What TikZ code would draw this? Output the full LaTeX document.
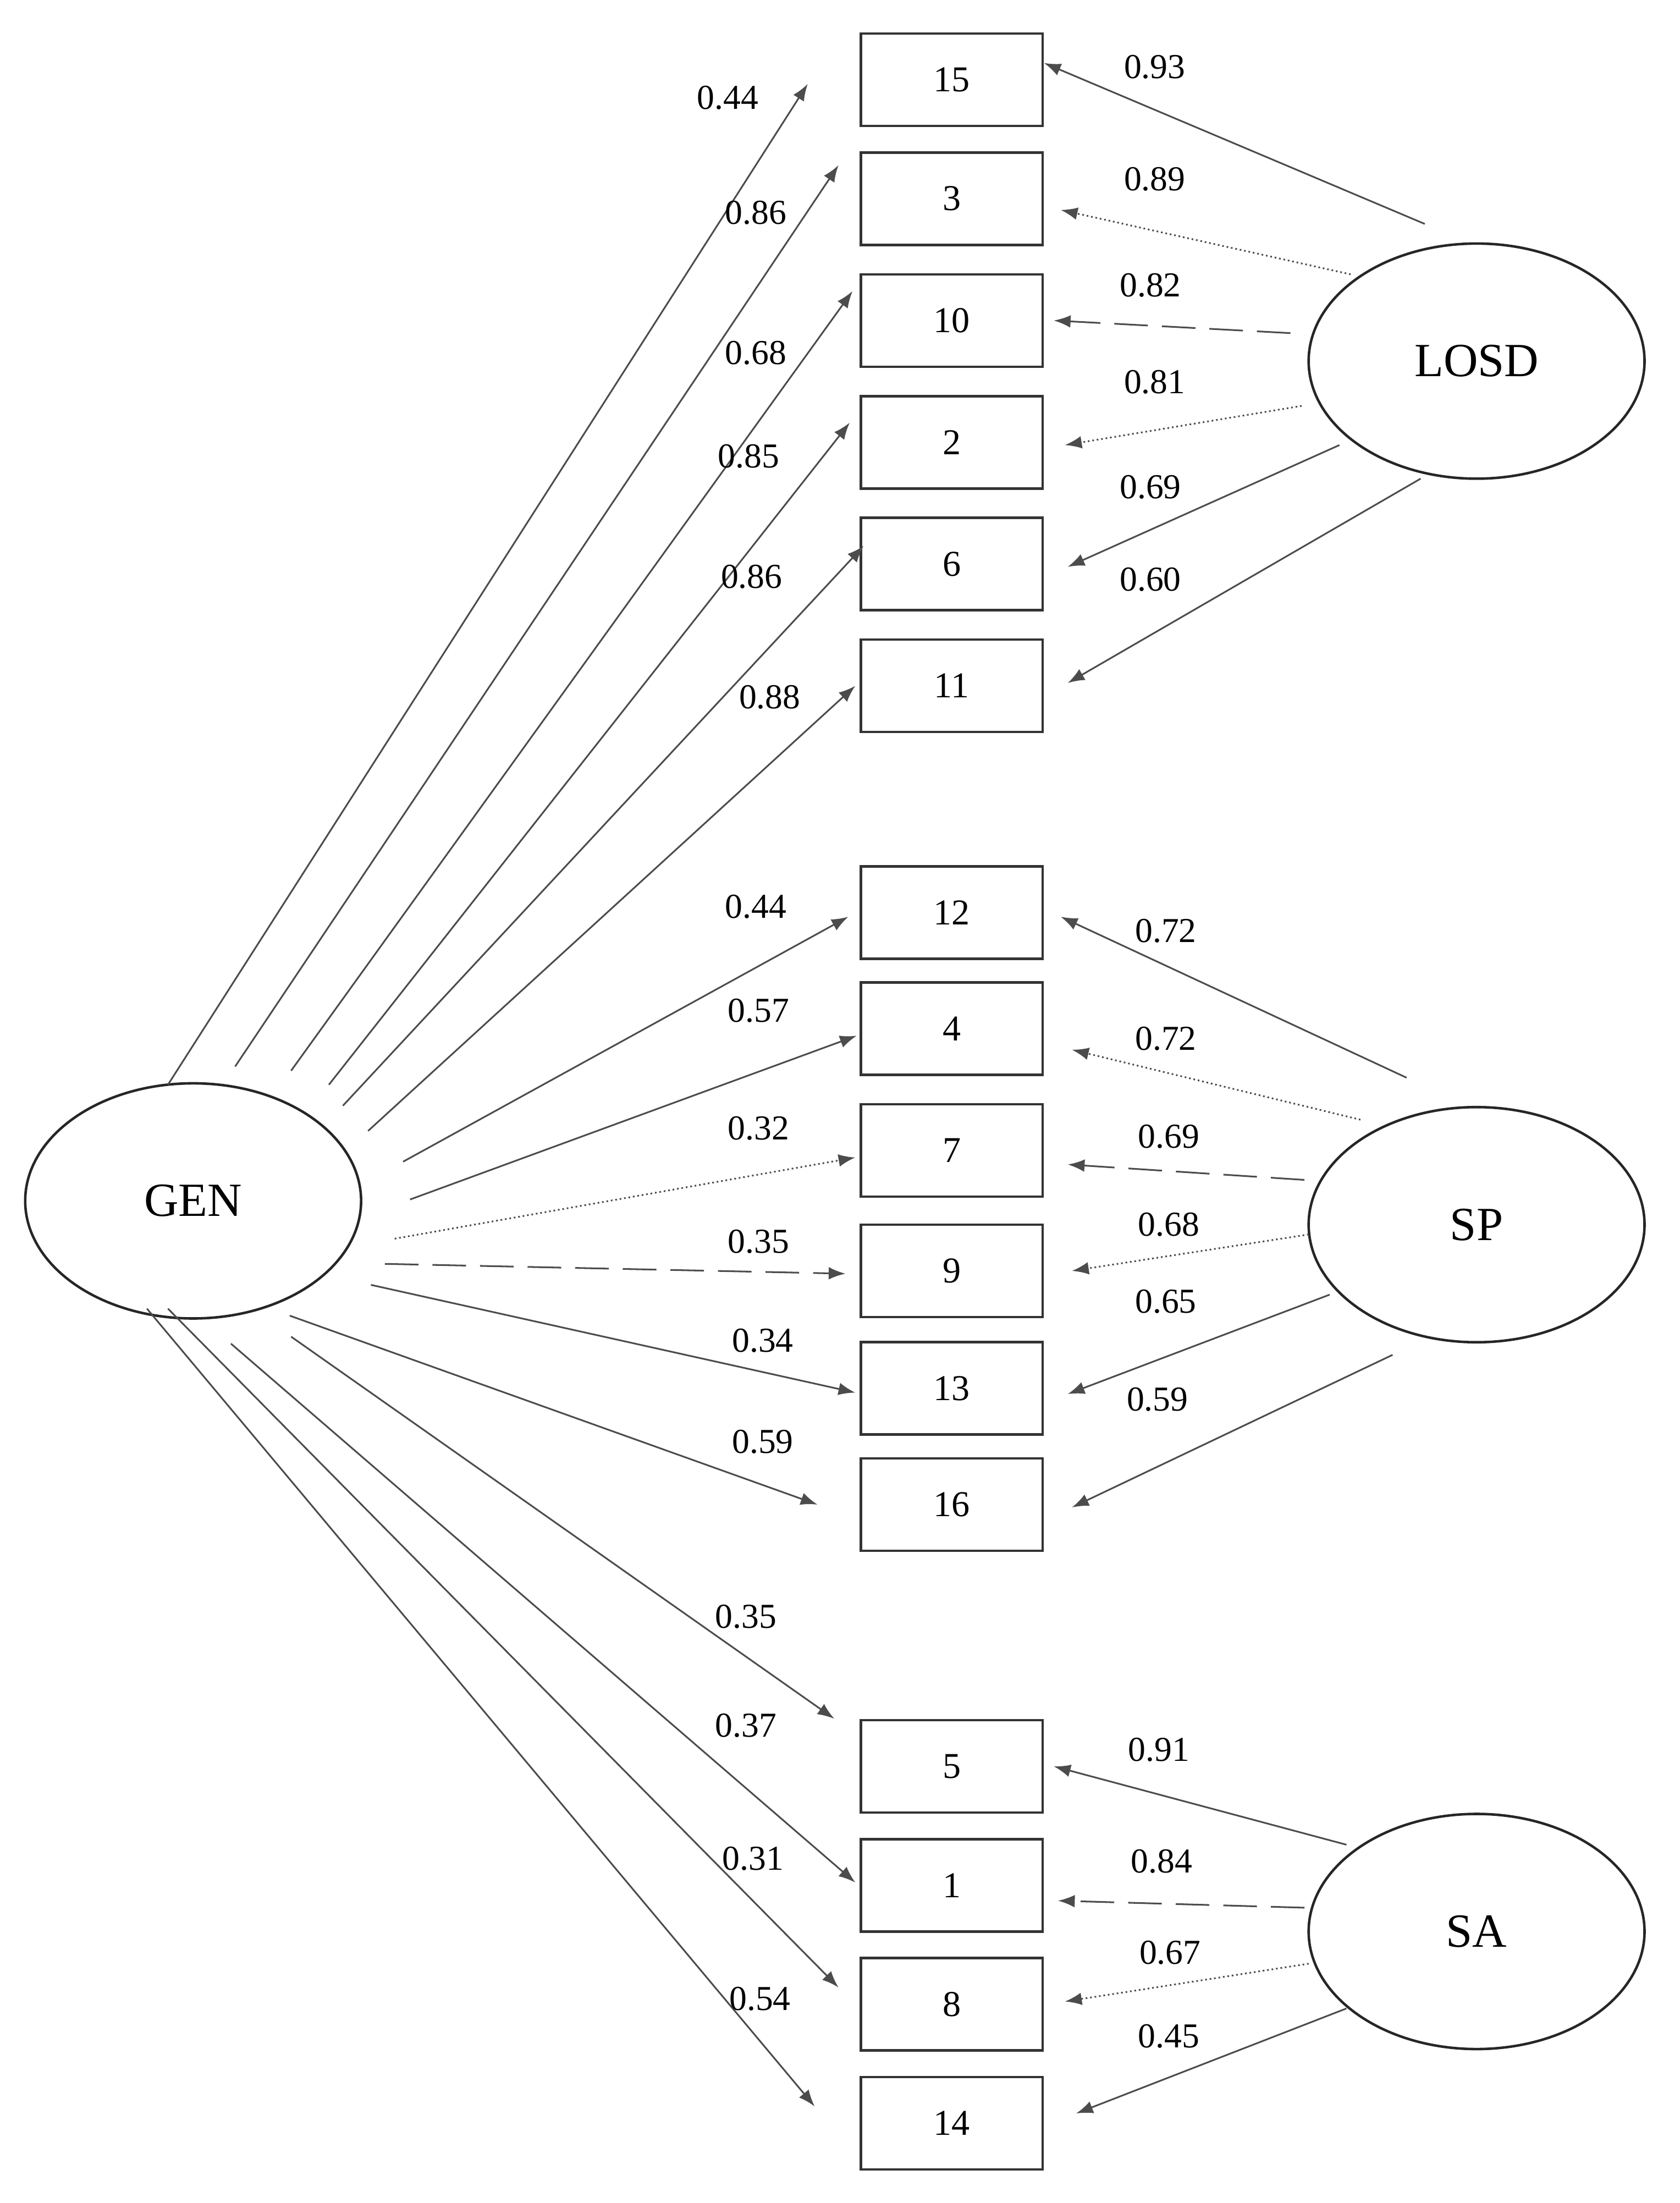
\documentclass[tikz,border=0pt]{standalone}
\usepackage{fontspec}
\setmainfont{Liberation Serif}
\usetikzlibrary{arrows.meta,shapes.geometric}
\begin{document}
\begin{tikzpicture}[x=0.5pt,y=-0.5pt,
  box/.style={draw=black!80,line width=0.9pt,minimum width=65pt,minimum height=33pt,inner sep=0pt,font=\fontsize{13}{15}\selectfont},
  lat/.style={draw=black!85,line width=0.9pt,ellipse,minimum width=120pt,minimum height=84pt,inner sep=0pt,font=\fontsize{17}{19}\selectfont},
  ar/.style={draw=black!70,line width=0.6pt,-{Latex[length=6pt,width=4.5pt]}},
  dt/.style={ar,densely dotted},
  ds/.style={ar,dash pattern=on 12pt off 5pt},
  lb/.style={font=\fontsize{12.5}{14}\selectfont,inner sep=0pt}]
\useasboundingbox (0,0) rectangle (1200,1574);
\newcommand{\lnk}[5]{\draw[#1] ([shift={(#2)}]#3.center) -- ([shift={(#4)}]#5);}
% boxes
\foreach \n/\y in {15/57,3/142,10/229,2/316,6/403,11/490,12/652,4/735,7/822,9/908,13/992,16/1075,5/1262,1/1347,8/1432,14/1517}
  \node[box] (b\n) at (680,\y) {\n};
\node[lat] (GEN) at (138,858) {GEN};
\node[lat] (LOSD) at (1055,258) {LOSD};
\node[lat] (SP) at (1055,875) {SP};
\node[lat] (SA) at (1055,1380) {SA};
% GEN links
\lnk{ar}{-18,-83}{GEN}{-37,3}{b15.west}
\lnk{ar}{30,-96}{GEN}{-15,-24}{b3.west}
\lnk{ar}{70,-93}{GEN}{-5,-21}{b10.west}
\lnk{ar}{97,-83}{GEN}{-7,-14}{b2.west}
\lnk{ar}{107,-68}{GEN}{3,-13}{b6.west}
\lnk{ar}{125,-50}{GEN}{-3,0}{b11.west}
\lnk{ar}{150,-28}{GEN}{-8,3}{b12.west}
\lnk{ar}{155,-1}{GEN}{-2,5}{b4.west}
\lnk{dt}{144,27}{GEN}{-3,5}{b7.west}
\lnk{ds}{137,45}{GEN}{-10,2}{b9.west}
\lnk{ar}{127,60}{GEN}{-3,3}{b13.west}
\lnk{ar}{69,82}{GEN}{-30,0}{b16.west}
\lnk{ar}{70,97}{GEN}{-18,-34}{b5.west}
\lnk{ar}{27,102}{GEN}{-3,-2}{b1.west}
\lnk{ar}{-18,77}{GEN}{-15,-12}{b8.west}
\lnk{ar}{-33,77}{GEN}{-32,-12}{b14.west}
% LOSD
\lnk{ar}{-37,-98}{LOSD}{0,-12}{b15.east}
\lnk{dt}{-90,-62}{LOSD}{12,8}{b3.east}
\lnk{ds}{-133,-20}{LOSD}{7,0}{b10.east}
\lnk{dt}{-125,32}{LOSD}{15,2}{b2.east}
\lnk{ar}{-98,60}{LOSD}{17,2}{b6.east}
\lnk{ar}{-40,84}{LOSD}{17,-2}{b11.east}
% SP
\lnk{ar}{-50,-105}{SP}{12,3}{b12.east}
\lnk{dt}{-83,-75}{SP}{20,15}{b4.east}
\lnk{ds}{-123,-32}{SP}{17,10}{b7.east}
\lnk{dt}{-120,7}{SP}{20,0}{b9.east}
\lnk{ar}{-105,50}{SP}{17,4}{b13.east}
\lnk{ar}{-60,93}{SP}{20,2}{b16.east}
% SA
\lnk{ar}{-93,-62}{SA}{7,0}{b5.east}
\lnk{ds}{-123,-17}{SA}{10,11}{b1.east}
\lnk{dt}{-120,23}{SA}{15,-2}{b8.east}
\lnk{ar}{-93,55}{SA}{23,-7}{b14.east}
% labels
\foreach \t/\x/\y [count=\i] in {0.44/520/70,0.86/540/152,0.68/540/252,0.85/535/326,0.86/537/412,0.88/550/498,0.44/540/648,0.57/542/722,0.32/542/806,0.35/542/887,0.34/545/958,0.59/545/1030,0.35/533/1155,0.37/533/1233,0.31/538/1328,0.54/543/1428,
0.93/825/48,0.89/825/128,0.82/822/204,0.81/825/273,0.69/822/348,0.60/822/414,0.72/833/665,0.72/833/742,0.69/835/812,0.68/835/875,0.65/833/930,0.59/827/1000,0.91/828/1250,0.84/830/1330,0.67/836/1395,0.45/835/1455}
  \node[lb] (l\i) at (\x,\y) {\t};
\end{tikzpicture}
\end{document}
